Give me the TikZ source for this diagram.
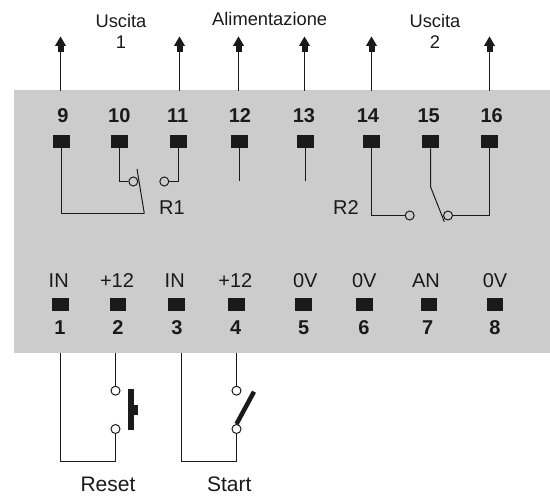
\documentclass[tikz,border=0pt]{standalone}
\usepackage{fontspec}
\setmainfont{Liberation Sans}
\usetikzlibrary{arrows.meta}
\definecolor{panel}{HTML}{CCCCCC}
\definecolor{ink}{HTML}{1A1A1A}
\tikzset{
  term/.style={draw=none,fill=ink,minimum width=16.5pt,minimum height=13pt,inner sep=0pt},
  lab/.style={inner sep=0pt,anchor=base,text=ink,font=\fontsize{20}{22}\selectfont},
  biglab/.style={inner sep=0pt,anchor=base,text=ink,font=\fontsize{21}{24}\selectfont},
  smalllab/.style={inner sep=0pt,anchor=base,text=ink,font=\fontsize{18.3}{22}\selectfont},
  num/.style={inner sep=0pt,anchor=base,text=ink,font=\fontsize{20}{22}\selectfont\bfseries},
  wire/.style={draw=ink,line width=1pt},
  outwire/.style={wire,-{Rectangle[length=6.5pt,width=6pt,sep=0pt]Triangle[length=9.5pt,width=11pt]}},
  contact/.style={circle,draw=ink,line width=1pt,minimum size=9pt,inner sep=0pt},
  thicklever/.style={draw=ink,line width=4.5pt}
}
\begin{document}
\begin{tikzpicture}[x=1pt,y=-1pt]
\useasboundingbox (0,0) rectangle (550,497);
\node[fill=panel,minimum width=536pt,minimum height=262.7pt,inner sep=0pt,anchor=north west] (panel) at (14,90) {};
% upper terminals
\foreach \n/\x/\lx in {9/61.5/63,10/119.5/119.3,11/178.5/177.7,12/239.5/240,13/305.5/304,14/371.5/368,15/430.5/428.7,16/489.5/491.7}{
  \node[term] (t\n) at (\x,141.8) {};
  \node[num] (n\n) at (\lx,122.7) {\n};
}
% lower terminals
\foreach \n/\x/\lx/\ttxt/\tx in {1/60.3/60/IN/58.7,2/118/118/+12/117,3/176.7/177/IN/174.7,4/236.7/235.7/+12/235.3,5/303.7/303.7/0V/305.3,6/364.3/364/0V/364.3,7/429/427.7/AN/426,8/495/495/0V/495}{
  \node[term] (t\n) at (\x,304.3) {};
  \node[num] (n\n) at (\lx,335) {\n};
  \node[lab] (s\n) at (\tx,287.7) {\ttxt};
}
% outputs
\foreach \name/\x in {a/60.5,b/179.5,c/238.5,d/304.5,e/371.5,f/489.5}{
  \coordinate (\name0) at (\x,91);
  \coordinate (\name1) at (\x,36.5);
  \draw[outwire] (\name0) -- (\name1);
}
\node[smalllab] (u1) at (121,28) {Uscita};
\node[smalllab] (u1b) at (121,48.3) {1};
\node[smalllab] (al) at (269.7,25.7) {Alimentazione};
\node[smalllab] (u2) at (435,28) {Uscita};
\node[smalllab] (u2b) at (435,48.6) {2};
% relay R1
\node[contact] (c10) at (133.3,181.5) {};
\node[contact] (c11) at (164.3,181.5) {};
\coordinate (l1a) at (137,169);
\coordinate (l1b) at (144.3,213.5);
\draw[wire] (l1a) -- (l1b);
\draw[wire] (t9.south) -- (t9.south |- l1b) -- (l1b);
\draw[wire] (t10.south) |- (c10.west);
\draw[wire] (t11.south) |- (c11.east);
\node[lab] (r1) at (172,215) {R1};
% plain stubs
\coordinate (e12) at (239.5,181);
\coordinate (e13) at (305.5,181);
\draw[wire] (t12.south) -- (e12);
\draw[wire] (t13.south) -- (e13);
% relay R2
\node[contact] (c14) at (409.7,215.5) {};
\node[contact] (c16) at (448,215.5) {};
\coordinate (l2a) at (430.5,186.7);
\coordinate (l2b) at (444.3,221.7);
\draw[wire] (t14.south) |- (c14.west);
\draw[wire] (t15.south) -- (l2a) -- (l2b);
\draw[wire] (t16.south) |- (c16.east);
\node[lab] (r2) at (346,215) {R2};
% reset push button
\coordinate (p1) at (60.5,352.7);
\coordinate (p2) at (115.5,352.7);
\coordinate (p3) at (181.5,352.7);
\coordinate (p4) at (236.5,352.7);
\node[contact,fill=white] (b1) at (115.5,390.7) {};
\node[contact,fill=white] (b2) at (115.5,429) {};
\draw[wire] (p2) -- (b1.north);
\draw[wire] (p1) |- (115.5,461.5) -- (b2.south);
\fill[ink] (128.3,389.3) rectangle (133.7,429.7);
\fill[ink] (133.7,405.3) rectangle (138,414.7);
\node[biglab] (reset) at (108,492) {Reset};
% start switch
\node[contact,fill=white] (s1) at (236.5,390.7) {};
\node[contact,fill=white] (s2) at (236.5,429) {};
\coordinate (lev) at (254,391.7);
\draw[wire] (p4) -- (s1.north);
\draw[wire] (p3) |- (236.5,461.5) -- (s2.south);
\draw[thicklever] (s2.north) -- (lev);
\node[biglab] (start) at (229.3,492) {Start};
\end{tikzpicture}
\end{document}
